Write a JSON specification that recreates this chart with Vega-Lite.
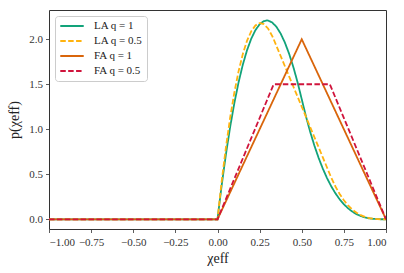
{
  "$schema": "https://vega.github.io/schema/vega-lite/v6.json",
  "autosize": "none",
  "width": 337,
  "height": 219,
  "padding": {"left": 49, "top": 10, "right": 18, "bottom": 44},
  "background": "white",
  "config": {
    "view": {"stroke": "#333333", "strokeWidth": 1},
    "font": "'Liberation Serif', serif",
    "axis": {
      "grid": false,
      "domain": false,
      "labelOverlap": false,
      "tickColor": "#333333",
      "tickSize": 3.5,
      "tickWidth": 0.8,
      "labelFont": "'Liberation Serif', serif",
      "labelFontSize": 11,
      "labelColor": "#333333",
      "titleFont": "'Liberation Serif', serif",
      "titleFontWeight": "normal",
      "titleFontSize": 14,
      "titleColor": "#222222"
    },
    "legend": {
      "labelFont": "'Liberation Serif', serif",
      "labelFontSize": 11,
      "labelColor": "#222222"
    }
  },
  "data": {
    "values": [
      {"x": -1, "p": 0, "s": "LA q = 1"},
      {"x": 0, "p": 0, "s": "LA q = 1"},
      {"x": 0.025, "p": 0.3802, "s": "LA q = 1"},
      {"x": 0.05, "p": 0.7213, "s": "LA q = 1"},
      {"x": 0.075, "p": 1.0245, "s": "LA q = 1"},
      {"x": 0.1, "p": 1.2907, "s": "LA q = 1"},
      {"x": 0.125, "p": 1.5208, "s": "LA q = 1"},
      {"x": 0.15, "p": 1.716, "s": "LA q = 1"},
      {"x": 0.175, "p": 1.8772, "s": "LA q = 1"},
      {"x": 0.2, "p": 2.0053, "s": "LA q = 1"},
      {"x": 0.225, "p": 2.1015, "s": "LA q = 1"},
      {"x": 0.25, "p": 2.1667, "s": "LA q = 1"},
      {"x": 0.275, "p": 2.2018, "s": "LA q = 1"},
      {"x": 0.293, "p": 2.209, "s": "LA q = 1"},
      {"x": 0.3, "p": 2.208, "s": "LA q = 1"},
      {"x": 0.325, "p": 2.1862, "s": "LA q = 1"},
      {"x": 0.35, "p": 2.1373, "s": "LA q = 1"},
      {"x": 0.375, "p": 2.0625, "s": "LA q = 1"},
      {"x": 0.4, "p": 1.9627, "s": "LA q = 1"},
      {"x": 0.425, "p": 1.8388, "s": "LA q = 1"},
      {"x": 0.45, "p": 1.692, "s": "LA q = 1"},
      {"x": 0.475, "p": 1.5232, "s": "LA q = 1"},
      {"x": 0.5, "p": 1.3333, "s": "LA q = 1"},
      {"x": 0.525, "p": 1.1432, "s": "LA q = 1"},
      {"x": 0.55, "p": 0.972, "s": "LA q = 1"},
      {"x": 0.575, "p": 0.8188, "s": "LA q = 1"},
      {"x": 0.6, "p": 0.6827, "s": "LA q = 1"},
      {"x": 0.625, "p": 0.5625, "s": "LA q = 1"},
      {"x": 0.65, "p": 0.4573, "s": "LA q = 1"},
      {"x": 0.675, "p": 0.3662, "s": "LA q = 1"},
      {"x": 0.7, "p": 0.288, "s": "LA q = 1"},
      {"x": 0.725, "p": 0.2218, "s": "LA q = 1"},
      {"x": 0.75, "p": 0.1667, "s": "LA q = 1"},
      {"x": 0.775, "p": 0.1215, "s": "LA q = 1"},
      {"x": 0.8, "p": 0.0853, "s": "LA q = 1"},
      {"x": 0.825, "p": 0.0572, "s": "LA q = 1"},
      {"x": 0.85, "p": 0.036, "s": "LA q = 1"},
      {"x": 0.875, "p": 0.0208, "s": "LA q = 1"},
      {"x": 0.9, "p": 0.0107, "s": "LA q = 1"},
      {"x": 0.925, "p": 0.0045, "s": "LA q = 1"},
      {"x": 0.95, "p": 0.0013, "s": "LA q = 1"},
      {"x": 0.975, "p": 0.0002, "s": "LA q = 1"},
      {"x": 1, "p": 0, "s": "LA q = 1"},

      {"x": -1, "p": 0, "s": "LA q = 0.5"},
      {"x": 0, "p": 0, "s": "LA q = 0.5"},
      {"x": 0.025, "p": 0.4249, "s": "LA q = 0.5"},
      {"x": 0.05, "p": 0.8004, "s": "LA q = 0.5"},
      {"x": 0.075, "p": 1.1279, "s": "LA q = 0.5"},
      {"x": 0.1, "p": 1.4085, "s": "LA q = 0.5"},
      {"x": 0.125, "p": 1.6436, "s": "LA q = 0.5"},
      {"x": 0.15, "p": 1.8343, "s": "LA q = 0.5"},
      {"x": 0.175, "p": 1.982, "s": "LA q = 0.5"},
      {"x": 0.2, "p": 2.088, "s": "LA q = 0.5"},
      {"x": 0.225, "p": 2.1535, "s": "LA q = 0.5"},
      {"x": 0.25, "p": 2.1797, "s": "LA q = 0.5"},
      {"x": 0.2546, "p": 2.18, "s": "LA q = 0.5"},
      {"x": 0.275, "p": 2.1679, "s": "LA q = 0.5"},
      {"x": 0.3, "p": 2.1195, "s": "LA q = 0.5"},
      {"x": 0.325, "p": 2.0356, "s": "LA q = 0.5"},
      {"x": 0.3333, "p": 2.0, "s": "LA q = 0.5"},
      {"x": 0.35, "p": 1.925, "s": "LA q = 0.5"},
      {"x": 0.375, "p": 1.8125, "s": "LA q = 0.5"},
      {"x": 0.4, "p": 1.7, "s": "LA q = 0.5"},
      {"x": 0.425, "p": 1.5875, "s": "LA q = 0.5"},
      {"x": 0.45, "p": 1.475, "s": "LA q = 0.5"},
      {"x": 0.475, "p": 1.3625, "s": "LA q = 0.5"},
      {"x": 0.5, "p": 1.25, "s": "LA q = 0.5"},
      {"x": 0.525, "p": 1.1375, "s": "LA q = 0.5"},
      {"x": 0.55, "p": 1.025, "s": "LA q = 0.5"},
      {"x": 0.575, "p": 0.9125, "s": "LA q = 0.5"},
      {"x": 0.6, "p": 0.8, "s": "LA q = 0.5"},
      {"x": 0.625, "p": 0.6875, "s": "LA q = 0.5"},
      {"x": 0.65, "p": 0.575, "s": "LA q = 0.5"},
      {"x": 0.6667, "p": 0.5, "s": "LA q = 0.5"},
      {"x": 0.675, "p": 0.4634, "s": "LA q = 0.5"},
      {"x": 0.7, "p": 0.3645, "s": "LA q = 0.5"},
      {"x": 0.725, "p": 0.2808, "s": "LA q = 0.5"},
      {"x": 0.75, "p": 0.2109, "s": "LA q = 0.5"},
      {"x": 0.775, "p": 0.1538, "s": "LA q = 0.5"},
      {"x": 0.8, "p": 0.108, "s": "LA q = 0.5"},
      {"x": 0.825, "p": 0.0724, "s": "LA q = 0.5"},
      {"x": 0.85, "p": 0.0456, "s": "LA q = 0.5"},
      {"x": 0.875, "p": 0.0264, "s": "LA q = 0.5"},
      {"x": 0.9, "p": 0.0135, "s": "LA q = 0.5"},
      {"x": 0.925, "p": 0.0057, "s": "LA q = 0.5"},
      {"x": 0.95, "p": 0.0017, "s": "LA q = 0.5"},
      {"x": 0.975, "p": 0.0002, "s": "LA q = 0.5"},
      {"x": 1, "p": 0, "s": "LA q = 0.5"},

      {"x": -1, "p": 0, "s": "FA q = 1"},
      {"x": 0, "p": 0, "s": "FA q = 1"},
      {"x": 0.5, "p": 2, "s": "FA q = 1"},
      {"x": 1, "p": 0, "s": "FA q = 1"},

      {"x": -1, "p": 0, "s": "FA q = 0.5"},
      {"x": 0, "p": 0, "s": "FA q = 0.5"},
      {"x": 0.3333, "p": 1.5, "s": "FA q = 0.5"},
      {"x": 0.6667, "p": 1.5, "s": "FA q = 0.5"},
      {"x": 1, "p": 0, "s": "FA q = 0.5"}
    ]
  },
  "mark": {"type": "line", "strokeWidth": 1.8, "clip": true},
  "encoding": {
    "x": {
      "field": "x",
      "type": "quantitative",
      "scale": {"domain": [-1, 1], "nice": false, "zero": false},
      "axis": {
        "values": [-1, -0.75, -0.5, -0.25, 0, 0.25, 0.5, 0.75, 1],
        "format": ".2f",
        "labelPadding": 4,
        "title": "χeff",
        "titlePadding": 4
      }
    },
    "y": {
      "field": "p",
      "type": "quantitative",
      "scale": {"domain": [-0.108, 2.325], "nice": false, "zero": false},
      "axis": {
        "values": [0, 0.5, 1, 1.5, 2],
        "format": ".1f",
        "labelPadding": 3,
        "title": "p(χeff)",
        "titlePadding": 7
      }
    },
    "color": {
      "field": "s",
      "type": "nominal",
      "sort": null,
      "scale": {
        "domain": ["LA q = 1", "LA q = 0.5", "FA q = 1", "FA q = 0.5"],
        "range": ["#12a37a", "#ffb30f", "#d9650b", "#d0143c"]
      },
      "legend": {
        "title": null,
        "orient": "top-left",
        "offset": 6,
        "symbolType": "stroke",
        "symbolSize": 550,
        "symbolStrokeWidth": 1.8,
        "labelOffset": 9,
        "rowPadding": 3,
        "clipHeight": 12,
        "padding": 4,
        "fillColor": "white",
        "strokeColor": "#cccccc",
        "cornerRadius": 3
      }
    },
    "strokeDash": {
      "field": "s",
      "type": "nominal",
      "sort": null,
      "scale": {
        "domain": ["LA q = 1", "LA q = 0.5", "FA q = 1", "FA q = 0.5"],
        "range": [[1, 0], [5.5, 2.4], [1, 0], [5.5, 2.4]]
      },
      "legend": null
    }
  }
}
